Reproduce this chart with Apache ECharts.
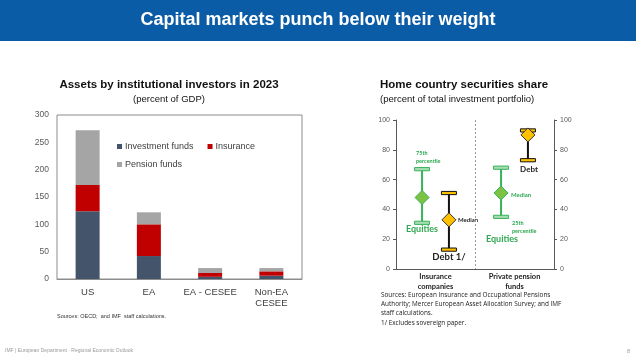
<!DOCTYPE html>
<html><head><meta charset="utf-8">
<script src="https://cdn.jsdelivr.net/npm/echarts@6/dist/echarts.min.js"></script>
<style>html,body{margin:0;padding:0;background:#fff}#c{width:636px;height:357px}</style>
</head><body><div id="c"></div>
<script>
// Left chart data
const assetCategories = ['US', 'EA', 'EA - CESEE', 'Non-EA\nCESEE'];
const investmentFunds = [124, 42, 4, 6];
const insurance = [48, 58, 7, 8];
const pensionFunds = [100, 22, 9, 6];
const leftTicks = [0, 50, 100, 150, 200, 250, 300];

// Right chart data: [categoryIndex, 25th, median, 75th]
const homeCategories = ['Insurance\ncompanies', 'Private pension\nfunds'];
const equities = [[0, 31, 48, 67], [1, 35, 51, 68]];
const debt = [[0, 13, 33, 51], [1, 73, 90, 93]];
const rightTicks = [0, 20, 40, 60, 80, 100];

const GREEN = '#35B25A', GREEN_FILL = '#7DC242', GREEN_TXT = '#2FA852';
const YELLOW = '#FFC000';

function boxRender(offset, lineColor, capFill, capStroke, diaFill, diaStroke) {
  return function (params, api) {
    const cat = api.value(0);
    const pLo = api.coord([cat, api.value(1)]);
    const pMed = api.coord([cat, api.value(2)]);
    const pHi = api.coord([cat, api.value(3)]);
    const bw = api.size([1, 0])[0];
    const x = pLo[0] + offset * bw;
    const hw = 7.5, ch = 3.2, d = 7;
    return {
      type: 'group',
      children: [
        {type: 'line', shape: {x1: x, y1: pHi[1], x2: x, y2: pLo[1]}, style: {stroke: lineColor, lineWidth: 2}},
        {type: 'rect', shape: {x: x - hw, y: pHi[1] - ch / 2, width: hw * 2, height: ch}, style: {fill: capFill, stroke: capStroke, lineWidth: 1}},
        {type: 'rect', shape: {x: x - hw, y: pLo[1] - ch / 2, width: hw * 2, height: ch}, style: {fill: capFill, stroke: capStroke, lineWidth: 1}},
        {type: 'polygon', shape: {points: [[x, pMed[1] - d], [x + d, pMed[1]], [x, pMed[1] + d], [x - d, pMed[1]]]}, style: {fill: diaFill, stroke: diaStroke, lineWidth: 1}}
      ]
    };
  };
}

const chart = echarts.init(document.getElementById('c'), null, {renderer: 'canvas'});
const AR = 'Liberation Sans, Arial, sans-serif';
const CB = 'Lato, Open Sans, sans-serif';

function t(x, y, text, opts) {
  return Object.assign({type: 'text', x: x, y: y, style: Object.assign({text: text, fontFamily: CB, fontSize: 7, fill: '#222', textVerticalAlign: 'middle'}, opts || {})});
}

const option = {
  animation: false,
  backgroundColor: '#fff',
  grid: [
    {left: 57, right: 334, top: 115, bottom: 78, show: true, borderColor: '#8c8c8c', borderWidth: 1},
    {left: 396, right: 82, top: 120, bottom: 88}
  ],
  legend: [
    {data: ['Investment funds', 'Insurance'], left: 112, top: 137, itemWidth: 5, itemHeight: 5, itemGap: 14, icon: 'rect',
     textStyle: {fontFamily: AR, fontSize: 9, color: '#404040', padding: [0, 0, 0, -2]}},
    {data: ['Pension funds'], left: 112, top: 155, itemWidth: 5, itemHeight: 5, icon: 'rect',
     textStyle: {fontFamily: AR, fontSize: 9, color: '#404040', padding: [0, 0, 0, -2]}}
  ],
  xAxis: [
    {type: 'category', gridIndex: 0, data: assetCategories, axisTick: {show: false},
     axisLine: {lineStyle: {color: '#8c8c8c'}},
     axisLabel: {interval: 0, fontFamily: AR, fontSize: 9.5, color: '#404040', margin: 8, lineHeight: 11}},
    {type: 'category', gridIndex: 1, data: homeCategories, axisTick: {show: false},
     axisLine: {lineStyle: {color: '#595959', width: 1}},
     splitLine: {show: true, lineStyle: {color: '#9a9a9a', type: [2, 2], width: 1}},
     axisLabel: {interval: 0, fontFamily: CB, fontSize: 7.5, fontWeight: 'bold', color: '#222', margin: 3, lineHeight: 9.5}}
  ],
  yAxis: [
    {type: 'value', gridIndex: 0, min: 0, max: 300, interval: 50, splitLine: {show: false},
     axisLine: {show: false}, axisTick: {show: false},
     axisLabel: {fontFamily: AR, fontSize: 8.5, color: '#595959', margin: 8,
       formatter: v => leftTicks.includes(v) ? String(v) : ''}},
    {type: 'value', gridIndex: 1, min: 0, max: 100, interval: 20, splitLine: {show: false},
     axisLine: {show: true, lineStyle: {color: '#595959'}}, axisTick: {show: true, length: 3, lineStyle: {color: '#595959'}},
     axisLabel: {fontFamily: AR, fontSize: 7, color: '#595959', margin: 6,
       formatter: v => rightTicks.includes(v) ? String(v) : ''}},
    {type: 'value', gridIndex: 1, position: 'right', min: 0, max: 100, interval: 20, splitLine: {show: false},
     axisLine: {show: true, lineStyle: {color: '#595959'}}, axisTick: {show: true, length: 3, lineStyle: {color: '#595959'}},
     axisLabel: {fontFamily: AR, fontSize: 7, color: '#595959', margin: 6,
       formatter: v => rightTicks.includes(v) ? String(v) : ''}}
  ],
  series: [
    {name: 'Investment funds', type: 'bar', stack: 'a', xAxisIndex: 0, yAxisIndex: 0, data: investmentFunds, barWidth: 24, itemStyle: {color: '#44546A'}},
    {name: 'Insurance', type: 'bar', stack: 'a', xAxisIndex: 0, yAxisIndex: 0, data: insurance, barWidth: 24, itemStyle: {color: '#C00000'}},
    {name: 'Pension funds', type: 'bar', stack: 'a', xAxisIndex: 0, yAxisIndex: 0, data: pensionFunds, barWidth: 24, itemStyle: {color: '#A5A5A5'}},
    {name: 'Equities', type: 'custom', xAxisIndex: 1, yAxisIndex: 1, data: equities,
     renderItem: boxRender(-0.17, GREEN, '#A8DDB2', GREEN, GREEN_FILL, GREEN), encode: {x: 0, y: [1, 2, 3]}, z: 3},
    {name: 'Debt', type: 'custom', xAxisIndex: 1, yAxisIndex: 1, data: debt,
     renderItem: boxRender(0.17, '#111', YELLOW, '#111', YELLOW, '#333'), encode: {x: 0, y: [1, 2, 3]}, z: 4}
  ],
  graphic: [
    {type: 'rect', shape: {x: 0, y: 0, width: 636, height: 41}, style: {fill: '#0B5CA6'}, z: -1},
    {type: 'text', x: 318, y: 20, style: {text: 'Capital markets punch below their weight', fontFamily: AR, fontWeight: 'bold', fontSize: 18, fill: '#fff', textAlign: 'center', textVerticalAlign: 'middle'}},
    {type: 'text', x: 169, y: 85, style: {text: 'Assets by institutional investors in 2023', fontFamily: AR, fontWeight: 'bold', fontSize: 11.5, fill: '#111', textAlign: 'center', textVerticalAlign: 'middle'}},
    {type: 'text', x: 169, y: 99, style: {text: '(percent of GDP)', fontFamily: AR, fontSize: 9.5, fill: '#111', textAlign: 'center', textVerticalAlign: 'middle'}},
    {type: 'text', x: 57, y: 316, style: {text: 'Sources: OECD;  and IMF  staff calculations.', fontFamily: AR, fontSize: 5.5, fill: '#333', textVerticalAlign: 'middle'}},
    {type: 'text', x: 380, y: 85, style: {text: 'Home country securities share', fontFamily: AR, fontWeight: 'bold', fontSize: 11.5, fill: '#111', textVerticalAlign: 'middle'}},
    {type: 'text', x: 380, y: 99, style: {text: '(percent of total investment portfolio)', fontFamily: AR, fontSize: 9.5, fill: '#111', textVerticalAlign: 'middle'}},
    t(416, 157, '75th\npercentile', {fill: GREEN_TXT, fontWeight: 'bold', fontSize: 5.5, lineHeight: 8}),
    t(422, 229, 'Equities', {fill: GREEN_TXT, fontWeight: 'bold', fontSize: 9, textAlign: 'center'}),
    t(458, 220, 'Median', {fontWeight: 'bold', fontSize: 6}),
    t(449, 257, 'Debt 1/', {fontWeight: 'bold', fontSize: 9.5, textAlign: 'center'}),
    t(529, 169, 'Debt', {fontWeight: 'bold', fontSize: 8, textAlign: 'center'}),
    t(511, 195, 'Median', {fill: GREEN_TXT, fontWeight: 'bold', fontSize: 6}),
    t(512, 227, '25th\npercentile', {fill: GREEN_TXT, fontWeight: 'bold', fontSize: 5.5, lineHeight: 8}),
    t(502, 239, 'Equities', {fill: GREEN_TXT, fontWeight: 'bold', fontSize: 9, textAlign: 'center'}),
    {type: 'text', x: 381, y: 290.5, style: {text: 'Sources: European Insurance and Occupational Pensions\nAuthority; Mercer European Asset Allocation Survey; and IMF\nstaff calculations.\n1/ Excludes sovereign paper.', fontFamily: 'Open Sans, sans-serif', fontSize: 6.4, lineHeight: 9.2, fill: '#222', textVerticalAlign: 'top'}},
    {type: 'text', x: 5, y: 351, style: {text: 'IMF | European Department · Regional Economic Outlook', fontFamily: AR, fontSize: 5, fill: '#999', textVerticalAlign: 'middle'}},
    {type: 'text', x: 627, y: 351, style: {text: '8', fontFamily: AR, fontSize: 5.5, fill: '#999', textVerticalAlign: 'middle'}}
  ]
};
chart.setOption(option);
</script></body></html>
